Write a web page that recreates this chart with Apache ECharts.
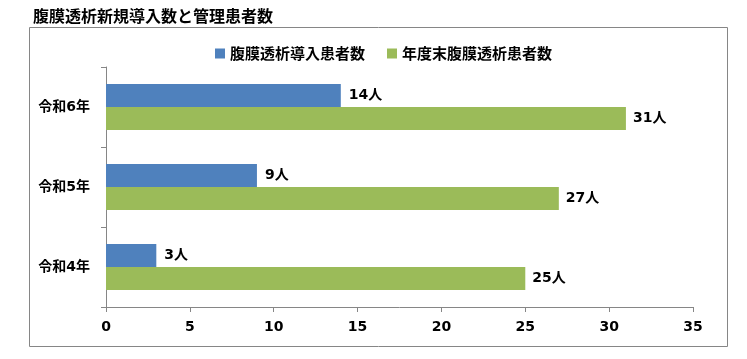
<!DOCTYPE html>
<html><head><meta charset="utf-8">
<script src="https://cdn.jsdelivr.net/npm/echarts@6/dist/echarts.min.js"></script>
<style>html,body{margin:0;padding:0;background:#fff}#c{width:747px;height:359px}</style>
</head><body><div id="c"></div>
<script>
const titleText = '腹膜透析新規導入数と管理患者数';
const categories = ['令和6年', '令和5年', '令和4年'];
const seriesNames = ['腹膜透析導入患者数', '年度末腹膜透析患者数'];
const newPatients = [14, 9, 3];
const totalPatients = [31, 27, 25];
const xTicks = [0, 5, 10, 15, 20, 25, 30, 35];

const FONT = '"DejaVu Sans", "Noto Sans CJK JP", sans-serif';
const chart = echarts.init(document.getElementById('c'), null, {renderer: 'canvas'});
chart.setOption({
  animation: false,
  backgroundColor: '#fff',
  title: {
    text: titleText, left: 28, top: 3,
    textStyle: {fontFamily: '"Noto Sans CJK JP", sans-serif', fontSize: 16, fontWeight: 'bold', color: '#000'}
  },
  graphic: [{
    type: 'rect', shape: {x: 29.5, y: 27.5, width: 698, height: 319},
    style: {fill: 'none', stroke: '#868686', lineWidth: 1}, silent: true, z: -1
  }],
  legend: {
    data: seriesNames, left: 210, top: 41, itemWidth: 10, itemHeight: 10, itemGap: 22, icon: 'rect',
    textStyle: {fontFamily: '"Noto Sans CJK JP", sans-serif', fontSize: 15, fontWeight: 'bold', color: '#000'}
  },
  grid: {left: 106, right: 54, top: 67, bottom: 52, containLabel: false},
  xAxis: {
    type: 'value', min: xTicks[0], max: xTicks[xTicks.length - 1], interval: 5,
    axisLine: {show: true, lineStyle: {color: '#868686'}},
    axisTick: {show: true, length: 5, lineStyle: {color: '#868686'}},
    splitLine: {show: false},
    axisLabel: {margin: 13, fontFamily: FONT, fontSize: 14, fontWeight: 'bold', color: '#000'}
  },
  yAxis: {
    type: 'category', data: categories, inverse: true,
    axisLine: {show: true, lineStyle: {color: '#868686'}},
    axisTick: {show: true, length: 5, alignWithLabel: false, lineStyle: {color: '#868686'}},
    axisLabel: {margin: 16, fontFamily: FONT, fontSize: 14, fontWeight: 'bold', color: '#000'}
  },
  series: [
    {name: seriesNames[0], type: 'bar', data: newPatients, barWidth: 23, barGap: '0%',
     itemStyle: {color: '#4F81BD'},
     label: {show: true, position: 'right', distance: 8, formatter: '{c}人', fontFamily: FONT, fontSize: 14, fontWeight: 'bold', color: '#000'}},
    {name: seriesNames[1], type: 'bar', data: totalPatients, barWidth: 23, barGap: '0%',
     itemStyle: {color: '#9BBB59'},
     label: {show: true, position: 'right', distance: 7, formatter: '{c}人', fontFamily: FONT, fontSize: 14, fontWeight: 'bold', color: '#000'}}
  ]
});
</script></body></html>
